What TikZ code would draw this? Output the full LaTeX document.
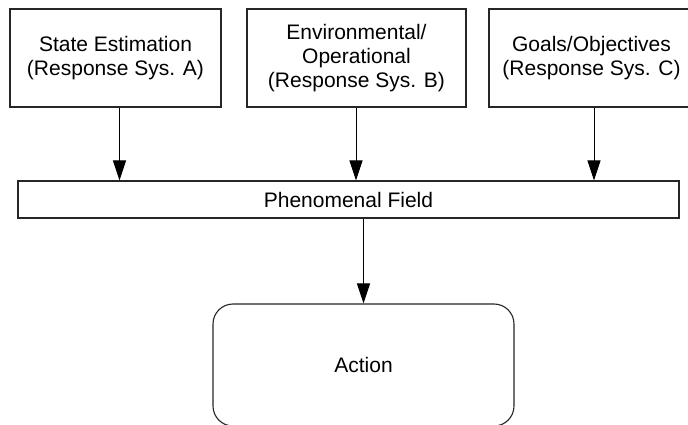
\documentclass[tikz,border=0pt]{standalone}
\usepackage{fontspec}
\setmainfont{Liberation Sans}
\usetikzlibrary{arrows.meta}
\begin{document}
\begin{tikzpicture}[x=1pt,y=-1pt,
  box/.style={draw=black!85, line width=1.1pt, fill=white, inner sep=0pt, align=center, font=\fontsize{21}{24}\selectfont},
  arr/.style={draw=black, line width=1pt, -{Triangle[length=20pt,width=13pt]}}]
\clip (0,0) rectangle (688,425);
\node[box, minimum width=211, minimum height=98] (A) at (115.5,58) {State Estimation\\(Response Sys. A)};
\node[box, minimum width=219, minimum height=98] (B) at (356.5,58) {Environmental/\\Operational\\(Response Sys. B)};
\node[box, minimum width=205, minimum height=98] (C) at (591.5,58) {Goals/Objectives\\(Response Sys. C)};
\node[box, minimum width=661, minimum height=37] (P) at (348.5,199.5) {Phenomenal Field};
\node[box, rounded corners=20pt, minimum width=301, minimum height=122] (Act) at (363.5,365) {Action};
\coordinate (xa) at (119.5,0);
\coordinate (xb) at (356,0);
\coordinate (xc) at (594,0);
\coordinate (xp) at (363.5,0);
\draw[arr] (A.south -| xa) -- (P.north -| xa);
\draw[arr] (B.south -| xb) -- (P.north -| xb);
\draw[arr] (C.south -| xc) -- (P.north -| xc);
\draw[arr] (P.south -| xp) -- (Act.north -| xp);
\end{tikzpicture}
\end{document}
